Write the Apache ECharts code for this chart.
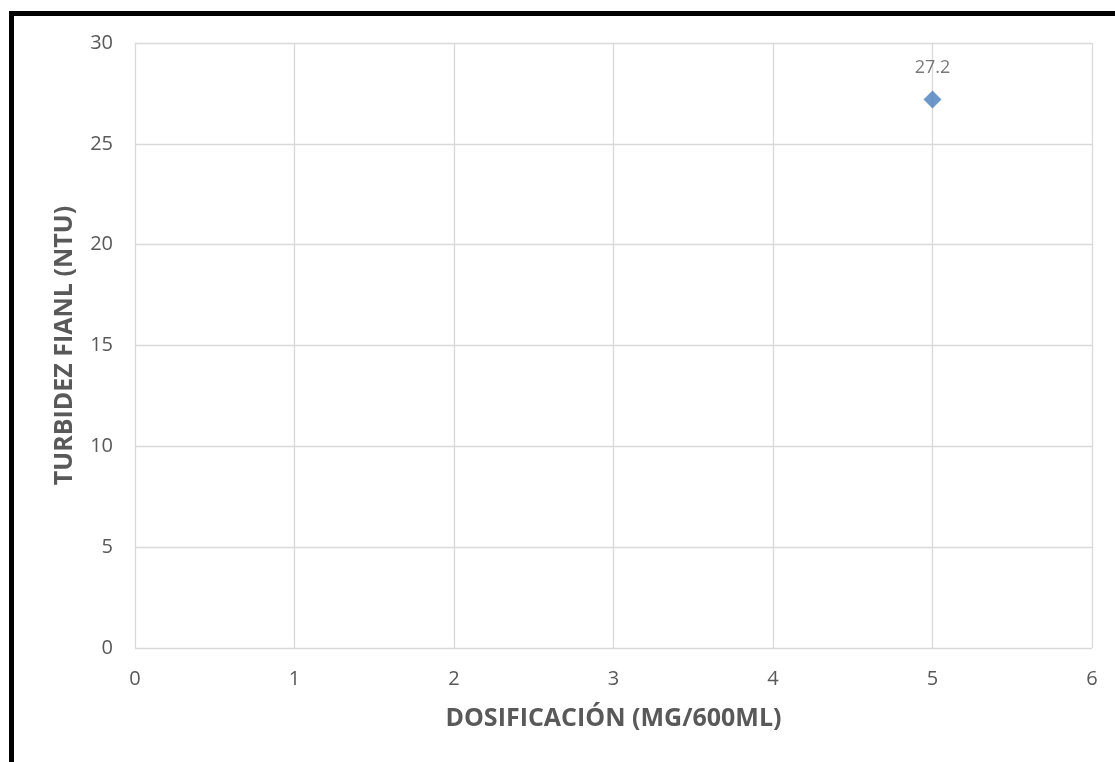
<!DOCTYPE html>
<html>
<head>
<meta charset="utf-8">
<script src="https://cdn.jsdelivr.net/npm/echarts@6/dist/echarts.min.js"></script>
<style>
  html, body { margin: 0; padding: 0; background: #ffffff; }
  #chart { width: 1115px; height: 762px; }
</style>
</head>
<body>
<div id="chart"></div>
<script>
// Dosage vs. final turbidity
const dosage = [5];
const turbidity = [27.2];
const xTitle = 'DOSIFICACIÓN (MG/600ML)';
const yTitle = 'TURBIDEZ FIANL (NTU)';

const points = dosage.map((d, i) => [d, turbidity[i]]);
const font = '"Open Sans", "Noto Sans", sans-serif';
const textGrey = '#595959';
const gridGrey = '#d9d9d9';

const chart = echarts.init(document.getElementById('chart'), null, { renderer: 'canvas' });
chart.setOption({
  backgroundColor: '#ffffff',
  animation: false,
  // heavy black frame along the top and left edges
  graphic: [
    { type: 'rect', left: 9, top: 11, shape: { width: 1106, height: 5 }, style: { fill: '#000000' } },
    { type: 'rect', left: 9, top: 11, shape: { width: 5, height: 751 }, style: { fill: '#000000' } }
  ],
  grid: { left: 135, top: 43, width: 957, height: 605, containLabel: false },
  xAxis: {
    type: 'value', min: 0, max: 6, interval: 1,
    name: xTitle, nameLocation: 'middle', nameGap: 58,
    nameTextStyle: { color: textGrey, fontFamily: font, fontSize: 25, fontWeight: 'bold' },
    axisLine: { show: false },
    axisTick: { show: false },
    axisLabel: { color: textGrey, fontFamily: font, fontSize: 20, margin: 21 },
    splitLine: { show: true, lineStyle: { color: gridGrey, width: 1.3 } }
  },
  yAxis: {
    type: 'value', min: 0, max: 30, interval: 5,
    name: yTitle, nameLocation: 'middle', nameGap: 58,
    nameTextStyle: { color: textGrey, fontFamily: font, fontSize: 25, fontWeight: 'bold' },
    axisLine: { show: false },
    axisTick: { show: false },
    axisLabel: { color: textGrey, fontFamily: font, fontSize: 20, margin: 22 },
    splitLine: { show: true, lineStyle: { color: gridGrey, width: 1.3 } }
  },
  series: [{
    type: 'scatter',
    data: points,
    symbol: 'diamond',
    symbolSize: [18, 18],
    itemStyle: { color: '#4a7ebb' },
    label: {
      show: true, position: 'top', distance: 14,
      color: textGrey, fontFamily: font, fontSize: 18,
      formatter: p => p.value[1].toFixed(1)
    }
  }]
});
</script>
</body>
</html>
